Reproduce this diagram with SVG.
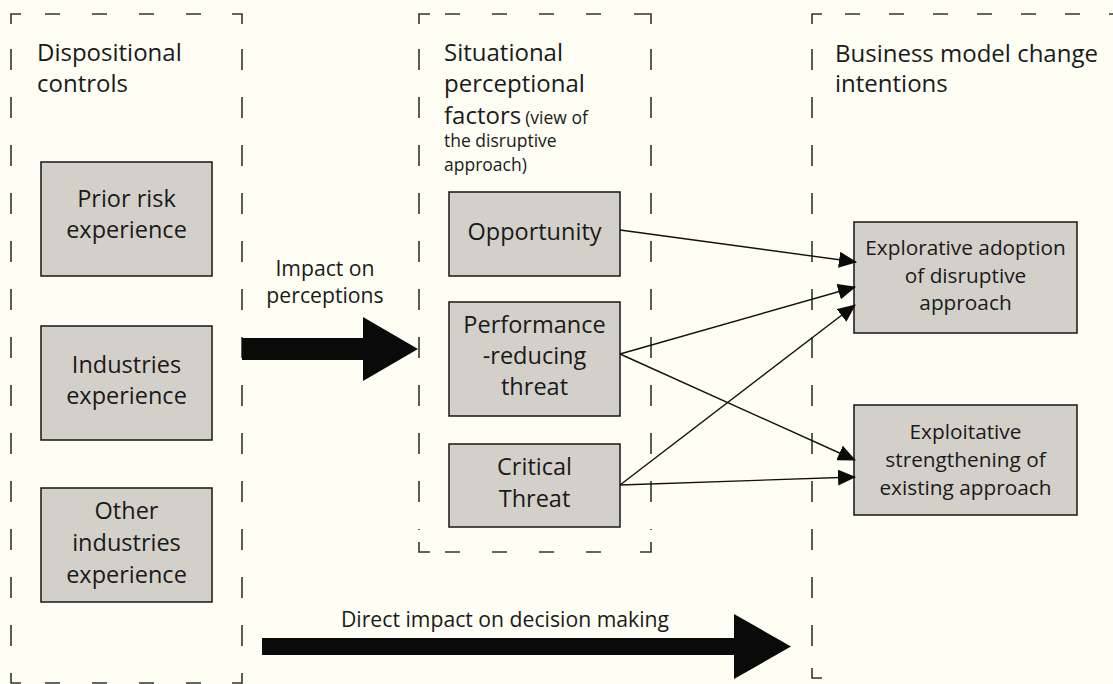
<svg xmlns="http://www.w3.org/2000/svg" width="1113" height="684" viewBox="0 0 1113 684">
<style>
.bg{fill:#FEFEF4}
.dh{fill:none;stroke:#333;stroke-width:1.6;stroke-dasharray:15 32}
.dv{fill:none;stroke:#333;stroke-width:1.6;stroke-dasharray:21 27}
.cr{fill:none;stroke:#333;stroke-width:1.6}
.box{fill:#D3CFC9;stroke:#222;stroke-width:1.6}
text{font-family:"Open Sans","Noto Sans","Liberation Sans",sans-serif;fill:#1a1a1a}
.hd{font-size:24px}
.bt{font-size:23.5px;text-anchor:middle}
.st{font-size:20.8px;text-anchor:middle}
.sm{font-size:17.5px}
.lb{font-size:21.2px;text-anchor:middle}
.cn{fill:none;stroke:#111;stroke-width:1.4}
.big{fill:#0a0a0a}
</style>
<defs>
<marker id="ah" markerUnits="userSpaceOnUse" markerWidth="18" markerHeight="16" viewBox="0 0 18 16" refX="17" refY="8" orient="auto">
<path d="M0,0 L18,8 L0,16 Z" fill="#0a0a0a"/>
</marker>
</defs>
<rect class="bg" x="0" y="0" width="1113" height="684"/>

<g id="frames">
<path class="cr" d="M11,24 V14 H21 M232,14 H242 V24 M11,673 V683 H21 M232,683 H242 V673"/>
<path class="dh" d="M45,14 H232" />
<path class="dh" d="M45,683 H232" />
<path class="dv" d="M11,49 V668" />
<path class="dv" d="M242,49 V668" />
<path class="cr" d="M419,24 V14 H430 M634,14 H651 V24 M419,542 V552 H430 M640,552 H651 V542"/>
<path class="dh" d="M445,14 H620" />
<path class="dh" d="M445,552 H625" />
<path class="dv" d="M419,49 V530" />
<path class="dv" d="M651,49 V530" />
<path class="cr" d="M812,24 V14 H822 M812,668 V678 H822"/>
<path class="dh" d="M845,14 H1113" style="stroke-dasharray:15 29"/>
<path class="dv" d="M812,49 V660" />
</g>

<g id="headers">
<text class="hd" x="37" y="61">Dispositional</text>
<text class="hd" x="37" y="92">controls</text>
<text class="hd" x="444" y="61">Situational</text>
<text class="hd" x="444" y="92">perceptional</text>
<text class="hd" x="444" y="124">factors<tspan class="sm" dx="4">(view of</tspan></text>
<text class="sm" x="444" y="147">the disruptive</text>
<text class="sm" x="444" y="171">approach)</text>
<text class="hd" x="835" y="62">Business model change</text>
<text class="hd" x="835" y="92">intentions</text>
</g>

<g id="prior-risk">
<rect class="box" x="41" y="162" width="171" height="114"/>
<text class="bt" x="126.5" y="207">Prior risk</text>
<text class="bt" x="126.5" y="238">experience</text>
</g>
<g id="industries">
<rect class="box" x="41" y="326" width="171" height="114"/>
<text class="bt" x="126.5" y="373">Industries</text>
<text class="bt" x="126.5" y="404">experience</text>
</g>
<g id="other-industries">
<rect class="box" x="41" y="488" width="171" height="114"/>
<text class="bt" x="126.5" y="519">Other</text>
<text class="bt" x="126.5" y="551">industries</text>
<text class="bt" x="126.5" y="583">experience</text>
</g>

<g id="opportunity">
<rect class="box" x="449" y="192" width="171" height="84"/>
<text class="bt" x="534.5" y="240">Opportunity</text>
</g>
<g id="performance">
<rect class="box" x="449" y="302" width="171" height="114"/>
<text class="bt" x="534.5" y="333">Performance</text>
<text class="bt" x="534.5" y="364">-reducing</text>
<text class="bt" x="534.5" y="395">threat</text>
</g>
<g id="critical">
<rect class="box" x="449" y="444" width="171" height="83"/>
<text class="bt" x="534.5" y="475">Critical</text>
<text class="bt" x="534.5" y="507">Threat</text>
</g>

<g id="explorative">
<rect class="box" x="854" y="222" width="223" height="111"/>
<text class="st" x="965.5" y="255">Explorative adoption</text>
<text class="st" x="965.5" y="283">of disruptive</text>
<text class="st" x="965.5" y="310">approach</text>
</g>
<g id="exploitative">
<rect class="box" x="854" y="405" width="223" height="110"/>
<text class="st" x="965.5" y="439">Exploitative</text>
<text class="st" x="965.5" y="467">strengthening of</text>
<text class="st" x="965.5" y="495">existing approach</text>
</g>

<g id="connectors">
<path class="cn" d="M620,230 L856,262" marker-end="url(#ah)"/>
<path class="cn" d="M620,354 L855,287" marker-end="url(#ah)"/>
<path class="cn" d="M620,354 L855,460" marker-end="url(#ah)"/>
<path class="cn" d="M620,485 L855,305" marker-end="url(#ah)"/>
<path class="cn" d="M620,485 L855,477" marker-end="url(#ah)"/>
<path class="big" d="M242,338 H363 V317 L418,349 L363,381 V360 H242 Z"/>
<text class="lb" x="325" y="276">Impact on</text>
<text class="lb" x="325" y="303">perceptions</text>
<path class="big" d="M262,638 H734 V614 L791,646.5 L734,679 V655 H262 Z"/>
<text class="lb" x="505" y="627">Direct impact on decision making</text>
</g>
</svg>
